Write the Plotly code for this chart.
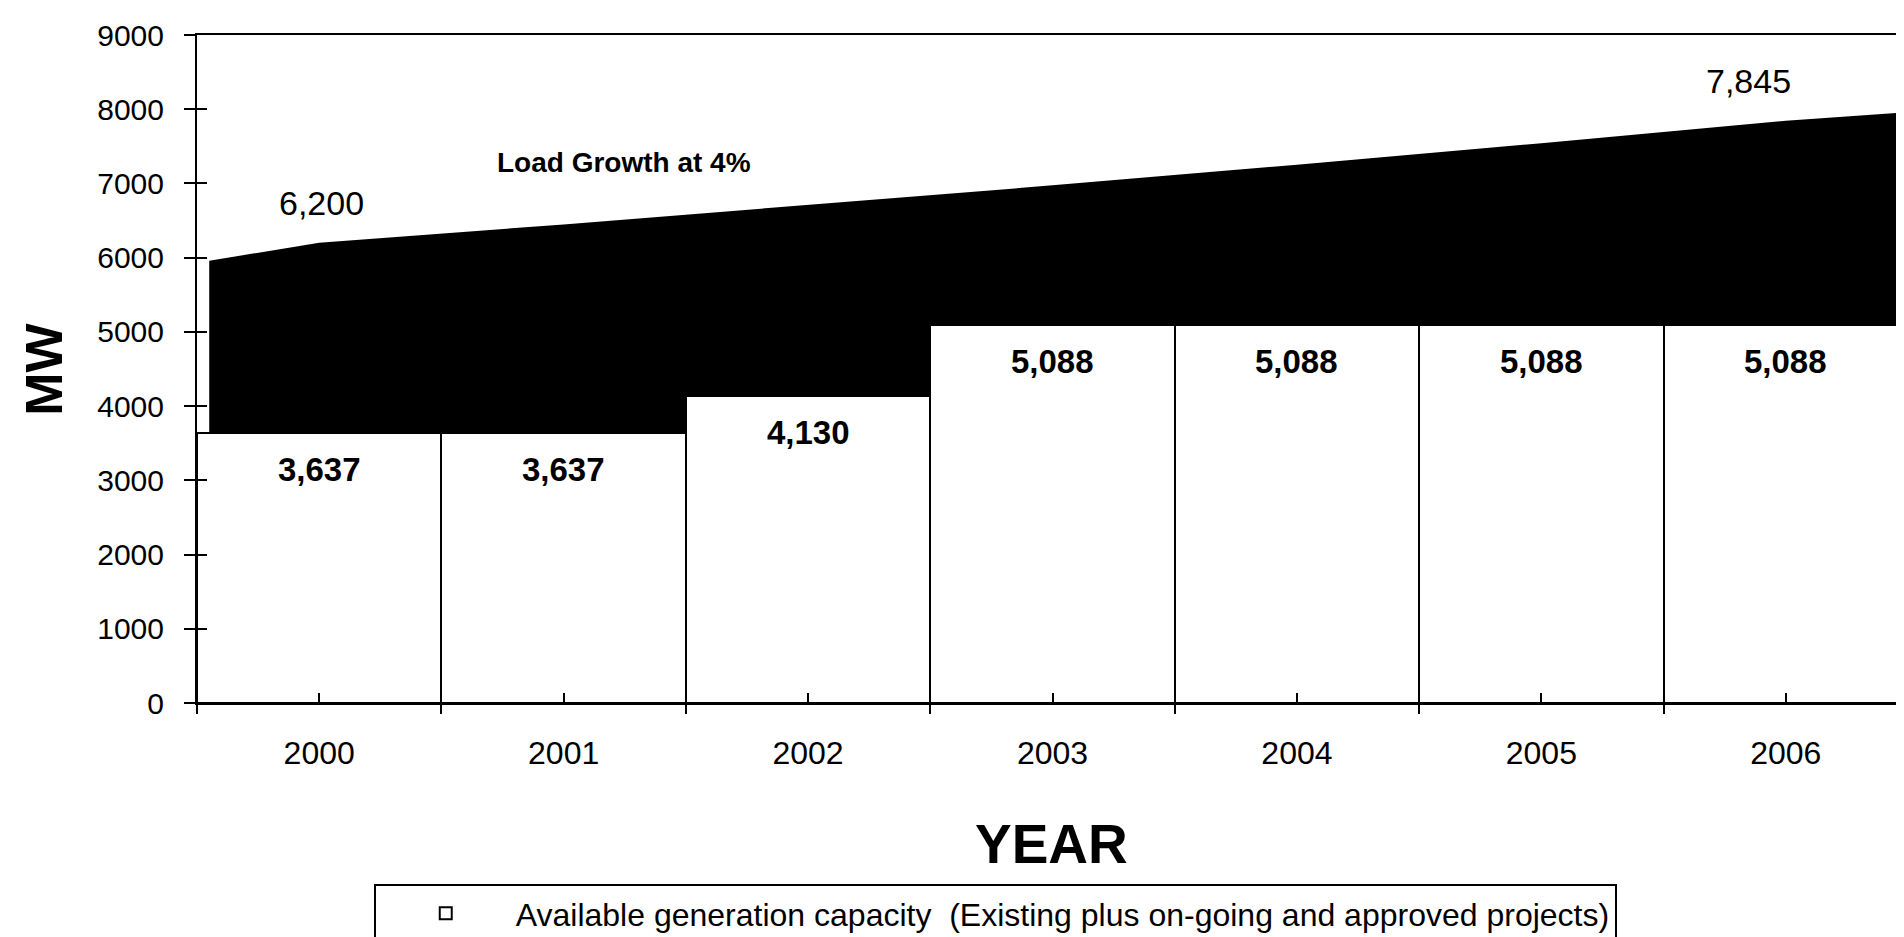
import plotly.graph_objects as go

# ---- data ----
years = ["2000", "2001", "2002", "2003", "2004", "2005", "2006"]
capacity = [3637, 3637, 4130, 5088, 5088, 5088, 5088]          # available generation capacity (MW)
capacity_labels = ["3,637", "3,637", "4,130", "5,088", "5,088", "5,088", "5,088"]
load = [6200, 6448, 6706, 6974, 7253, 7543, 7845]               # load growth at 4% (MW)
load_edge_start = 5960   # load level where the shaded area begins (left edge)
load_edge_end = 7960     # load level at the right edge of the chart
load_labels = {0: "6,200", 6: "7,845"}

n = len(years)
idx = list(range(n))
load_x = [-0.45] + idx + [n - 0.5]
load_y = [load_edge_start] + load + [load_edge_end]
boundaries = [i - 0.5 for i in range(n + 1)]

FONT = "Liberation Sans Narrow, Arial Narrow, Liberation Sans, Arial, sans-serif"

fig = go.Figure()

# black load-growth area (base axes)
fig.add_trace(go.Scatter(
    x=load_x, y=load_y, mode="lines", fill="tozeroy",
    line=dict(color="black", width=0), fillcolor="black",
    name="Load Growth at 4%", showlegend=False, xaxis="x", yaxis="y"))

# white capacity bars (overlay axes, drawn on top)
fig.add_trace(go.Bar(
    x=idx, y=capacity, width=1,
    marker=dict(color="white", line=dict(color="black", width=2)),
    name="Available generation capacity&nbsp; (Existing plus on-going and approved projects)",
    showlegend=True, xaxis="x2", yaxis="y2"))

annotations = []
for i, (v, t) in enumerate(zip(capacity, capacity_labels)):
    annotations.append(dict(x=i, y=v, xref="x2", yref="y2", text="<b>%s</b>" % t,
                            showarrow=False, yshift=-36, yanchor="middle",
                            font=dict(family=FONT, size=33, color="black")))
for i, t in load_labels.items():
    annotations.append(dict(x=i, y=load[i], xref="x", yref="y", text=t,
                            showarrow=False, yshift=40, xshift=(-37 if i == n - 1 else 2),
                            yanchor="middle",
                            font=dict(family=FONT, size=34, color="black")))
annotations.append(dict(x=0.2493, y=0.809, xref="paper", yref="paper",
                        text="<b>Load Growth at 4%</b>", showarrow=False,
                        xanchor="center", yanchor="middle",
                        font=dict(family=FONT, size=28, color="black")))
annotations.append(dict(x=-0.0895, y=0.5, xref="paper", yref="paper",
                        text="<b>MW</b>", textangle=-90, showarrow=False,
                        xanchor="center", yanchor="middle",
                        font=dict(family=FONT, size=52, color="black")))
annotations.append(dict(x=0.4995, y=-0.211, xref="paper", yref="paper",
                        text="<b>YEAR</b>", showarrow=False,
                        xanchor="center", yanchor="middle",
                        font=dict(family=FONT, size=55, color="black")))

fig.update_layout(
    width=1904, height=937,
    margin=dict(l=189, r=2, t=27, b=235),
    paper_bgcolor="white", plot_bgcolor="white",
    font=dict(family=FONT, color="black"),
    bargap=0,
    xaxis=dict(range=[-0.5, n - 0.5], tickmode="array", tickvals=idx, ticktext=years,
               ticks="inside", ticklen=10, tickwidth=2, tickcolor="black",
               showline=True, linecolor="black", linewidth=2, mirror=True,
               showgrid=False, zeroline=False, ticklabelstandoff=21,
               tickfont=dict(family=FONT, size=32, color="black")),
    xaxis2=dict(overlaying="x", anchor="y2", side="bottom", range=[-0.5, n - 0.5],
                tickmode="array", tickvals=boundaries, ticks="outside", ticklen=10,
                tickwidth=2, tickcolor="black", showticklabels=False,
                showline=False, showgrid=False, zeroline=False),
    yaxis=dict(range=[0, 9000], tickmode="linear", tick0=0, dtick=1000,
               ticks="outside", ticklen=11, tickwidth=2, tickcolor="black",
               showline=True, linecolor="black", linewidth=2, mirror=True,
               showgrid=False, zeroline=False, ticklabelstandoff=14,
               tickfont=dict(family=FONT, size=30, color="black")),
    yaxis2=dict(overlaying="y", anchor="x2", side="left", range=[0, 9000],
                tickmode="linear", tick0=0, dtick=1000, ticks="inside", ticklen=10,
                tickwidth=2, tickcolor="black", showticklabels=False,
                showline=False, showgrid=False, zeroline=False),
    legend=dict(x=0.1033, y=-0.271, xanchor="left", yanchor="top",
                bordercolor="black", borderwidth=2, bgcolor="white",
                itemwidth=130, font=dict(family=FONT, size=32, color="black")),
    annotations=annotations,
)

fig.write_html("out.html")
